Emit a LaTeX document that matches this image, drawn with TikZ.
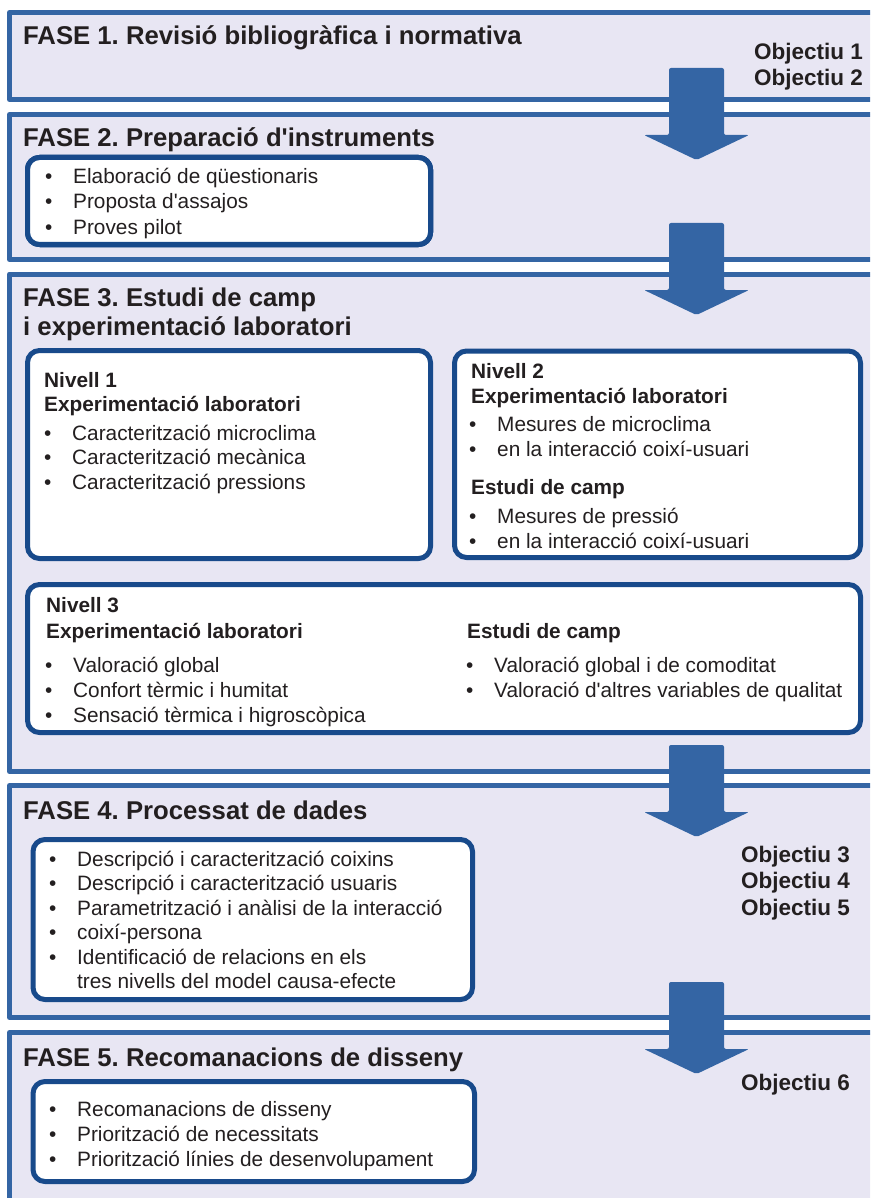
\documentclass[tikz,border=0pt]{standalone}
\usepackage{fontspec}
\setmainfont{Liberation Sans}[Ligatures=TeXOff]
\frenchspacing
\definecolor{lavanda}{HTML}{E8E6F3}
\definecolor{blaufase}{HTML}{3465A4}
\definecolor{blaucaixa}{HTML}{184A8B}
\definecolor{textfosc}{HTML}{231F20}
% fletxa gruixuda entre fases (y = dalt de la fletxa)
\newcommand{\blockarrow}[1]{\fill[blaufase, rounded corners=2pt] (669,#1) -- (724,#1) -- (724,{#1+67}) -- (749,{#1+67}) -- (696.5,{#1+92}) -- (644,{#1+67}) -- (669,{#1+67}) -- cycle;}
\newcommand{\bul}{\makebox[28pt][l]{\textbullet}}
\begin{document}
\begin{tikzpicture}[x=1pt, y=-1pt, line join=round,
    fase/.style={draw=blaufase, fill=lavanda, line width=5pt},
    caixa/.style={draw=blaucaixa, fill=white, line width=5pt, rounded corners=12pt},
    titol/.style={anchor=base west, inner sep=0pt, text=textfosc, font=\bfseries\fontsize{25.7}{29}\selectfont},
    capcal/.style={anchor=base west, inner sep=0pt, text=textfosc, font=\bfseries\fontsize{20.8}{25}\selectfont},
    punt/.style={anchor=base west, inner sep=0pt, text=textfosc, font=\fontsize{20.8}{25}\selectfont},
    objectiu/.style={anchor=base east, inner sep=0pt, text=textfosc, font=\bfseries\fontsize{22.5}{26}\selectfont}]
    \useasboundingbox (0,0) rectangle (870,1198);
    \clip (0,0) rectangle (870,1198);
    \fill[white] (0,0) rectangle (870,1198);
    % fases
    \draw[fase] (9.5,12.5) rectangle (880,99.5);
    \draw[fase] (9.5,114.5) rectangle (880,259.5);
    \draw[fase] (9.5,274) rectangle (880,771.5);
    \draw[fase] (9.5,785.5) rectangle (880,1017.5);
    \draw[fase] (9.5,1032.5) rectangle (880,1220);
    \foreach \y in {68,223,745,982}
    \blockarrow{\y}
    % caixes interiors
    \draw[caixa] (27.5,157.5) rectangle (430.5,244.5);
    \draw[caixa] (27.5,350.5) rectangle (430.5,558.5);
    \draw[caixa] (454.5,351) rectangle (860.5,557.5);
    \draw[caixa] (27.5,584.5) rectangle (860.5,732.5);
    \draw[caixa] (33,839.5) rectangle (472.5,999.5);
    \draw[caixa] (33,1081.5) rectangle (474.5,1181.5);
    % titols
    \node[titol] (t1) at (23,45) {FASE 1. Revisió bibliogràfica i normativa};
    \node[titol] (t2) at (23,147) {FASE 2. Preparació d'instruments};
    \node[titol] (t3) at (23,306) {FASE 3. Estudi de camp};
    \node[titol] (t3b) at (23,335) {i experimentació laboratori};
    \node[titol] (t4) at (23,819) {FASE 4. Processat de dades};
    \node[titol] (t5) at (23,1066) {FASE 5. Recomanacions de disseny};
    % objectius
    \node[objectiu] (o1) at (863,60) {Objectiu 1};
    \node[objectiu] (o2) at (863,86) {Objectiu 2};
    \foreach \n/\y in {3/862,4/888,5/915,6/1090}
    \node[objectiu] (o\n) at (850,\y) {Objectiu \n};
    % fase 2
    \foreach \t [count=\i] in {Elaboració de qüestionaris, Proposta d'assajos, Proves pilot}
    \node[punt] (f2-\i) at (45,{184+25*(\i-1)}) {\bul\t};
    % nivell 1
    \node[capcal] (n1) at (44,387) {Nivell 1};
    \node[capcal] (n1e) at (44,411) {Experimentació laboratori};
    \foreach \t [count=\i] in {Caracterització microclima, Caracterització mecànica, Caracterització pressions}
    \node[punt] (n1-\i) at (44,{440+24.5*(\i-1)}) {\bul\t};
    % nivell 2
    \node[capcal] (n2) at (471,378) {Nivell 2};
    \node[capcal] (n2e) at (471,403) {Experimentació laboratori};
    \node[punt] (n2-1) at (469,431) {\bul Mesures de microclima};
    \node[punt] (n2-2) at (469,456) {\bul en la interacció coixí-usuari};
    \node[capcal] (n2c) at (471,494) {Estudi de camp};
    \node[punt] (n2-3) at (469,523) {\bul Mesures de pressió};
    \node[punt] (n2-4) at (469,548) {\bul en la interacció coixí-usuari};
    % nivell 3
    \node[capcal] (n3) at (46,612) {Nivell 3};
    \node[capcal] (n3e) at (46,638) {Experimentació laboratori};
    \foreach \t [count=\i] in {Valoració global, Confort tèrmic i humitat, Sensació tèrmica i higroscòpica}
    \node[punt] (n3-\i) at (45,{672+25*(\i-1)}) {\bul\t};
    \node[capcal] (n3c) at (467,638) {Estudi de camp};
    \foreach \t [count=\i] in {Valoració global i de comoditat, Valoració d'altres variables de qualitat}
    \node[punt] (n3c-\i) at (466,{672+25*(\i-1)}) {\bul\t};
    % fase 4
    \foreach \t [count=\i] in {Descripció i caracterització coixins, Descripció i caracterització usuaris, Parametrització i anàlisi de la interacció, coixí-persona, Identificació de relacions en els}
    \node[punt] (f4-\i) at (49,{866+24.5*(\i-1)}) {\bul\t};
    \node[punt] (f4-6) at (49,988.5) {\hspace*{28pt}tres nivells del model causa-efecte};
    % fase 5
    \foreach \t [count=\i] in {Recomanacions de disseny, Priorització de necessitats, Priorització línies de desenvolupament}
    \node[punt] (f5-\i) at (49,{1116+25*(\i-1)}) {\bul\t};
\end{tikzpicture}
\end{document}
